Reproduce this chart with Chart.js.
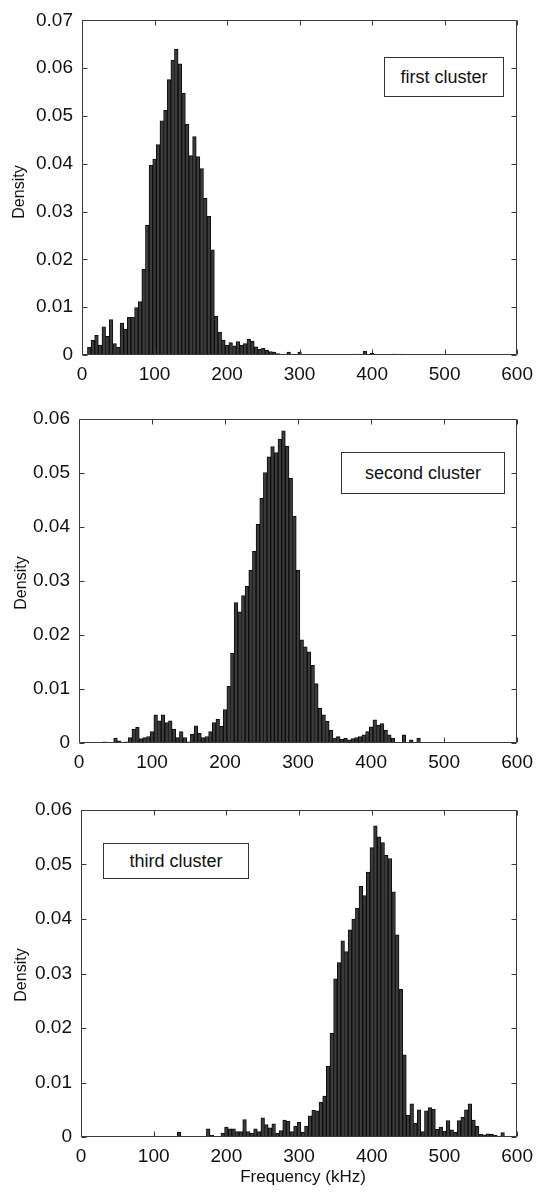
<!DOCTYPE html>
<html>
<head>
<meta charset="utf-8">
<script src="https://cdn.jsdelivr.net/npm/chart.js@4.4.0/dist/chart.umd.min.js"></script>
<style>
  body{margin:0;background:#fff;font-family:"Liberation Sans",Arial,sans-serif;color:#111}
  #page{position:relative;width:541px;height:1194px;overflow:hidden}
  canvas{position:absolute;left:0}
  .box{position:absolute;border:1px solid #333;background:#fff;font-size:18px;line-height:1;display:flex;align-items:center;justify-content:center;box-sizing:border-box}
  .ylab{position:absolute;font-size:16px;transform:translate(-50%,-50%) rotate(-90deg);white-space:nowrap}
  .xlab{position:absolute;font-size:17px;transform:translateX(-50%);white-space:nowrap}
</style>
</head>
<body>
<div id="page">
  <canvas id="c1" width="541" height="390" style="top:0"></canvas>
  <canvas id="c2" width="541" height="390" style="top:390px"></canvas>
  <canvas id="c3" width="541" height="414" style="top:780px"></canvas>

  <div class="box" style="left:384px;top:57px;width:120px;height:40px">first cluster</div>
  <div class="box" style="left:341px;top:452px;width:164px;height:42px">second cluster</div>
  <div class="box" style="left:103px;top:843px;width:146px;height:36px">third cluster</div>

  <div class="ylab" style="left:19px;top:192px">Density</div>
  <div class="ylab" style="left:21px;top:583px">Density</div>
  <div class="ylab" style="left:21px;top:975px">Density</div>
  <div class="xlab" style="left:303px;top:1167px">Frequency (kHz)</div>
</div>
<script>
// histogram bins are 5 kHz wide, centred on multiples of 5
const binWidth = 5;

const xTicks = [0, 100, 200, 300, 400, 500, 600];
const xTickLabels = ['0', '100', '200', '300', '400', '500', '600'];
const yTicks1 = [0, 0.01, 0.02, 0.03, 0.04, 0.05, 0.06, 0.07];
const yTickLabels1 = ['0', '0.01', '0.02', '0.03', '0.04', '0.05', '0.06', '0.07'];
const yTicks23 = [0, 0.01, 0.02, 0.03, 0.04, 0.05, 0.06];
const yTickLabels23 = ['0', '0.01', '0.02', '0.03', '0.04', '0.05', '0.06'];

// first cluster, first bin centred at 10 kHz
const p1Start = 10;
const p1Density = [
  0.0016, 0.0031, 0.0041, 0.0021, 0.0059, 0.0039, 0.0074, 0.0024, 0.0016, 0.0067,
  0.0054, 0.0079, 0.0079, 0.0099, 0.0112, 0.0179, 0.0272, 0.0397, 0.0410, 0.0440,
  0.0490, 0.0512, 0.0576, 0.0617, 0.0640, 0.0609, 0.0548, 0.0483, 0.0417, 0.0457,
  0.0415, 0.0390, 0.0328, 0.0290, 0.0220, 0.0081, 0.0048, 0.0031, 0.0021, 0.0026,
  0.0019, 0.0028, 0.0021, 0.0024, 0.0033, 0.0029, 0.0017, 0.0012, 0.0014, 0.0010,
  0.0007, 0.0006, 0.0003, 0, 0, 0.0006, 0, 0, 0.0006, 0,
  0, 0, 0, 0, 0, 0, 0, 0, 0, 0,
  0, 0, 0, 0.0002, 0, 0, 0.0008, 0, 0.0004, 0,
  0, 0, 0, 0, 0.0002, 0, 0.0002
];

// second cluster, first bin centred at 20 kHz
const p2Start = 20;
const p2Density = [
  0.0001, 0.0001, 0.0001, 0.0002, 0.0001, 0.0001, 0.0009, 0.0004, 0.0001, 0.0002,
  0.0010, 0.0026, 0.0029, 0.0008, 0.0010, 0.0012, 0.0021, 0.0052, 0.0041, 0.0052,
  0.0038, 0.0041, 0.0026, 0.0010, 0.0021, 0.0010, 0.0002, 0.0016, 0.0032, 0.0018,
  0.0010, 0.0012, 0.0021, 0.0038, 0.0044, 0.0031, 0.0062, 0.0105, 0.0166, 0.0260,
  0.0243, 0.0273, 0.0290, 0.0320, 0.0355, 0.0405, 0.0453, 0.0501, 0.0530, 0.0549,
  0.0538, 0.0563, 0.0578, 0.0550, 0.0490, 0.0420, 0.0320, 0.0191, 0.0178, 0.0169,
  0.0144, 0.0110, 0.0064, 0.0052, 0.0040, 0.0024, 0.0009, 0.0012, 0.0007, 0.0009,
  0.0006, 0.0008, 0.0010, 0.0012, 0.0015, 0.0021, 0.0030, 0.0043, 0.0033, 0.0036,
  0.0024, 0.0015, 0.0009, 0.0001, 0, 0.0015, 0, 0.0006, 0, 0.0009,
  0.0001
];

// third cluster, first bin centred at 20 kHz
const p3Start = 20;
const p3Density = [
  0.0001, 0, 0.0001, 0, 0.0001, 0, 0, 0, 0, 0.0001,
  0, 0, 0, 0, 0, 0, 0.0001, 0, 0, 0,
  0, 0, 0, 0.0009, 0, 0.0001, 0, 0, 0, 0.0001,
  0, 0.0015, 0.0003, 0, 0, 0.0007, 0.0018, 0.0015, 0.0015, 0.0010,
  0.0010, 0.0032, 0.0010, 0.0007, 0.0015, 0.0010, 0.0035, 0.0023, 0.0017, 0.0024,
  0.0007, 0.0012, 0.0031, 0.0029, 0.0010, 0.0020, 0.0027, 0.0009, 0.0020, 0.0039,
  0.0049, 0.0048, 0.0064, 0.0075, 0.0130, 0.0190, 0.0290, 0.0320, 0.0360, 0.0340,
  0.0380, 0.0400, 0.0420, 0.0460, 0.0443, 0.0486, 0.0531, 0.0571, 0.0551, 0.0540,
  0.0517, 0.0511, 0.0450, 0.0371, 0.0271, 0.0151, 0.0040, 0.0061, 0.0025, 0.0050,
  0.0010, 0.0048, 0.0054, 0.0051, 0.0014, 0.0018, 0.0011, 0.0030, 0.0013, 0.0009,
  0.0030, 0.0036, 0.0050, 0.0061, 0.0031, 0.0020, 0.0005, 0.0004, 0.0006, 0.0005,
  0.0003, 0, 0.0008
];

// MATLAB-like box with inward ticks on all four sides
const framePlugin = {
  id: 'frame',
  afterDatasetsDraw(chart){
    const {ctx, chartArea:a, scales:{x, y}} = chart;
    const L = Math.round(a.left) + .5, R = Math.round(a.right) - .5;
    const T = Math.round(a.top) + .5, B = Math.round(a.bottom) - .5;
    ctx.save();
    ctx.strokeStyle = '#3a3a3a';
    ctx.lineWidth = 1;
    ctx.beginPath();
    ctx.rect(L, T, R - L, B - T);
    x.ticks.forEach(t => {
      const px = Math.round(x.getPixelForValue(t.value)) + .5;
      ctx.moveTo(px, B); ctx.lineTo(px, B - 5);
      ctx.moveTo(px, T); ctx.lineTo(px, T + 5);
    });
    y.ticks.forEach(t => {
      const py = Math.round(y.getPixelForValue(t.value)) + .5;
      ctx.moveTo(L, py); ctx.lineTo(L + 5, py);
      ctx.moveTo(R, py); ctx.lineTo(R - 5, py);
    });
    ctx.stroke();
    ctx.restore();
  }
};

function makePanel(id, start, values, yTicks, yLabels, area){
  const canvas = document.getElementById(id);
  const W = canvas.width, H = canvas.height;
  const font = { family: '"Liberation Sans", Arial, sans-serif', size: 19 };
  return new Chart(canvas, {
    type: 'bar',
    data: {
      datasets: [{
        data: values.map((v, i) => ({ x: start + i * binWidth, y: v })),
        backgroundColor: '#3a3a3a',
        borderColor: '#0d0d0d',
        borderWidth: 1,
        borderSkipped: 'start',
        barPercentage: 1,
        categoryPercentage: 1
      }]
    },
    plugins: [framePlugin],
    options: {
      responsive: false,
      animation: false,
      events: [],
      layout: { padding: { left: 0, top: area.top, right: W - area.right, bottom: 0 } },
      plugins: { legend: { display: false }, tooltip: { enabled: false } },
      scales: {
        x: {
          type: 'linear', min: 0, max: 600, offset: false,
          grid: { display: false, drawTicks: false }, border: { display: false },
          afterBuildTicks: s => { s.ticks = xTicks.map(v => ({ value: v })); },
          afterFit: s => { s.height = H - area.bottom; },
          ticks: { autoSkip: false, maxRotation: 0, padding: 8, color: '#111', font,
                   callback: (v) => xTickLabels[xTicks.indexOf(v)] }
        },
        y: {
          type: 'linear', min: 0, max: yTicks[yTicks.length - 1],
          grid: { display: false, drawTicks: false }, border: { display: false },
          afterBuildTicks: s => { s.ticks = yTicks.map(v => ({ value: v })); },
          afterFit: s => { s.width = area.left; },
          ticks: { padding: 9, color: '#111', font,
                   callback: (v) => yLabels[yTicks.indexOf(v)] }
        }
      }
    }
  });
}

makePanel('c1', p1Start, p1Density, yTicks1, yTickLabels1, { left: 82, top: 18, right: 522, bottom: 355 });
makePanel('c2', p2Start, p2Density, yTicks23, yTickLabels23, { left: 79, top: 29, right: 520, bottom: 353 });
makePanel('c3', p3Start, p3Density, yTicks23, yTickLabels23, { left: 81, top: 30, right: 526, bottom: 357 });
</script>
</body>
</html>
